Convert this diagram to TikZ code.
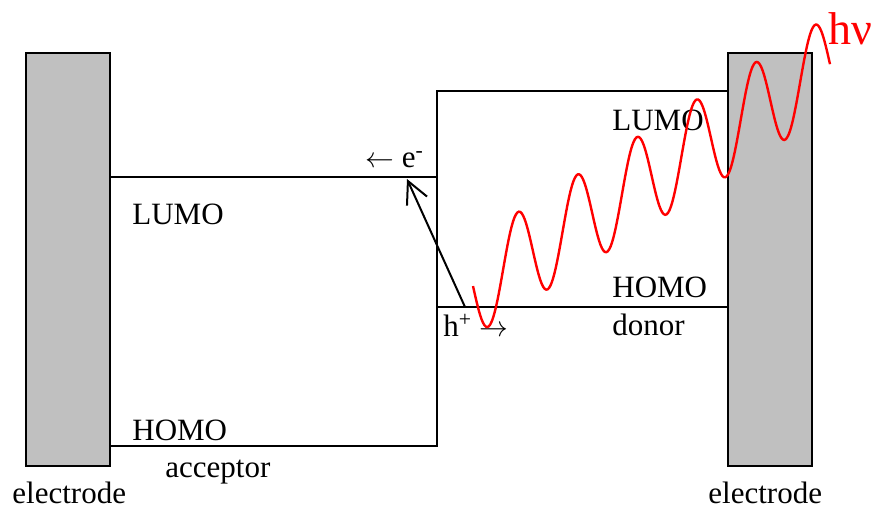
\documentclass[tikz,border=0pt]{standalone}
\usepackage{fontspec}
\setmainfont{Liberation Serif}
\usetikzlibrary{arrows.meta}
\definecolor{ink}{HTML}{000000}
\definecolor{metal}{HTML}{C0C0C0}
\definecolor{photon}{HTML}{FF0000}

\begin{document}
\begin{tikzpicture}[x=0.5pt,y=-0.5pt,
  level/.style={ink,line width=1pt},
  lbl/.style={font=\fontsize{15.5pt}{18pt}\selectfont,inner sep=0pt,anchor=base west},
  electrodebox/.style={draw=ink,fill=metal,line width=1pt,minimum width=42pt,minimum height=206.5pt,inner sep=0pt,anchor=north west}]
\useasboundingbox (0,0) rectangle (875,508);
% electrodes
\node[electrodebox] (elL) at (25,52) {};\node[electrodebox] (elR) at (727,52) {};
% acceptor and donor levels
\coordinate (aLa) at (109,177);\coordinate (aLb) at (437,177);\coordinate (aHa) at (109,446);\coordinate (aHb) at (437,446);
\coordinate (dLa) at (727,91);\coordinate (dLb) at (437,91);\coordinate (dHa) at (727,307);\coordinate (dHb) at (437,307);
\draw[level] (aLa)--(aLb)--(aHb)--(aHa);\draw[level] (dLa)--(dLb)--(dHb)--(dHa);
% labels
\node[lbl] (aLUMO) at (132,225) {LUMO};\node[lbl] (aHOMO) at (132,441) {HOMO};\node[lbl] (acc) at (165,478) {acceptor};
\node[lbl] (dLUMO) at (612,131) {LUMO};\node[lbl] (dHOMO) at (612,298) {HOMO};\node[lbl] (don) at (612,336) {donor};
\node[lbl] (elLtxt) at (12,503) {electrode};\node[lbl] (elRtxt) at (708,503) {electrode};
\node[lbl] (elec) at (365,168) {$\leftarrow$ e\textsuperscript{-}};\node[lbl] (hole) at (443,337) {h\textsuperscript{+} $\rightarrow$};
% excitation
\coordinate (hstart) at (465,307);\coordinate (eend) at (407,179);
\draw[level,-{Straight Barb[length=11pt,width=11pt]}] (hstart)--(eend);
% photon
\draw[photon,line width=1.2pt] plot[domain=473:830,samples=250,smooth] (\x,{260-0.63*(\x-518)-48*cos(6.0606*(\x-518))});
\node[lbl,text=photon,font=\fontsize{23pt}{26pt}\selectfont] (hnu) at (828,45) {hν};
\end{tikzpicture}
\end{document}
